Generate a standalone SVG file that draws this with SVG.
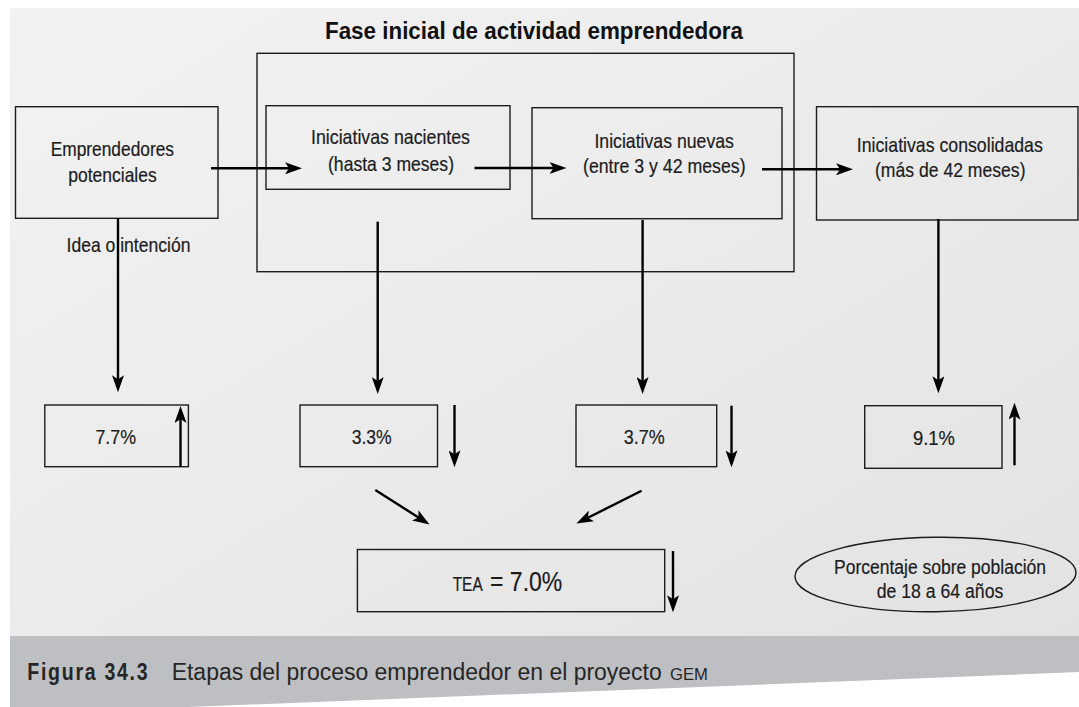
<svg xmlns="http://www.w3.org/2000/svg" width="1079" height="707" viewBox="0 0 1079 707">
<style>
.box{fill:none;stroke:#1c1c1c;stroke-width:1.4}
.t{font-family:"Liberation Sans",Arial,sans-serif;font-size:21px;fill:#1c1c1c;stroke:#1c1c1c;stroke-width:0.2}
.title{font-family:"Liberation Sans",Arial,sans-serif;font-size:24.5px;font-weight:bold;fill:#111}
.cap{font-family:"Liberation Sans",Arial,sans-serif;fill:#262626}
#connectors line{stroke:#000;stroke-width:2.4;marker-end:url(#ah)}
</style>
<defs>
<marker id="ah" markerUnits="userSpaceOnUse" markerWidth="17" markerHeight="12" viewBox="0 0 17 12" refX="9" refY="6" orient="auto">
<path d="M0,0 L17,6 L0,12 L4,6 Z" fill="#000"/>
</marker>
<linearGradient id="bg" x1="0" y1="0" x2="1" y2="1">
<stop offset="0" stop-color="#f2f2f2"/>
<stop offset="0.5" stop-color="#ebebeb"/>
<stop offset="1" stop-color="#e2e2e2"/>
</linearGradient>
</defs>
<rect x="0" y="0" width="1079" height="707" fill="#fff"/>
<rect x="10" y="8" width="1069" height="640" fill="url(#bg)"/>
<polygon points="10,636 1079,636 1079,672 10,714" fill="#bebfc2"/>

<text class="title" x="325" y="39" textLength="418" lengthAdjust="spacingAndGlyphs">Fase inicial de actividad emprendedora</text>

<g id="fase-inicial"><rect class="box" x="257" y="53.3" width="537" height="218.4"/></g>

<g id="emprendedores">
<rect class="box" x="15.5" y="106.7" width="202.5" height="111.6"/>
<text class="t" x="50.7" y="156" textLength="123.3" lengthAdjust="spacingAndGlyphs">Emprendedores</text>
<text class="t" x="68.3" y="181.7" textLength="88.4" lengthAdjust="spacingAndGlyphs">potenciales</text>
</g>
<g id="nacientes">
<rect class="box" x="266" y="105.7" width="244" height="83.6"/>
<text class="t" x="311" y="144.3" textLength="159" lengthAdjust="spacingAndGlyphs">Iniciativas nacientes</text>
<text class="t" x="328" y="170.7" textLength="126" lengthAdjust="spacingAndGlyphs">(hasta 3 meses)</text>
</g>
<g id="nuevas">
<rect class="box" x="532" y="107.7" width="250" height="111"/>
<text class="t" x="594.4" y="148.3" textLength="139.5" lengthAdjust="spacingAndGlyphs">Iniciativas nuevas</text>
<text class="t" x="583" y="173.3" textLength="162.6" lengthAdjust="spacingAndGlyphs">(entre 3 y 42 meses)</text>
</g>
<g id="consolidadas">
<rect class="box" x="816.5" y="106.7" width="261.5" height="113.3"/>
<text class="t" x="856.8" y="152.3" textLength="186" lengthAdjust="spacingAndGlyphs">Iniciativas consolidadas</text>
<text class="t" x="875" y="177.3" textLength="150.5" lengthAdjust="spacingAndGlyphs">(más de 42 meses)</text>
</g>
<g id="idea-label">
<text class="t" x="66.5" y="251.7" textLength="124" lengthAdjust="spacingAndGlyphs">Idea o intención</text>
</g>

<g id="p77">
<rect class="box" x="44.8" y="405" width="143.6" height="61.7"/>
<text class="t" x="95.4" y="444.3" textLength="40.6" lengthAdjust="spacingAndGlyphs">7.7%</text>
</g>
<g id="p33">
<rect class="box" x="300" y="405" width="137.5" height="61.7"/>
<text class="t" x="351.7" y="444.3" textLength="40" lengthAdjust="spacingAndGlyphs">3.3%</text>
</g>
<g id="p37">
<rect class="box" x="576" y="405" width="140.7" height="61.7"/>
<text class="t" x="623.7" y="444.3" textLength="41" lengthAdjust="spacingAndGlyphs">3.7%</text>
</g>
<g id="p91">
<rect class="box" x="864.7" y="405.7" width="137.3" height="62.6"/>
<text class="t" x="913" y="445" textLength="42" lengthAdjust="spacingAndGlyphs">9.1%</text>
</g>
<g id="tea">
<rect class="box" x="357.4" y="549.5" width="307.3" height="62.2"/>
<text class="t" x="452.7" y="590.7" textLength="30" lengthAdjust="spacingAndGlyphs">TEA</text>
<text class="t" x="490" y="590.7" style="font-size:27px" textLength="72.3" lengthAdjust="spacingAndGlyphs">= 7.0%</text>
</g>
<g id="nota">
<ellipse class="box" cx="935.5" cy="574.5" rx="140.5" ry="37.2" transform="rotate(-0.8 935.5 574.5)"/>
<text class="t" x="834" y="574.3" style="font-size:20px" textLength="212" lengthAdjust="spacingAndGlyphs">Porcentaje sobre población</text>
<text class="t" x="876.7" y="598.3" style="font-size:20px" textLength="126.6" lengthAdjust="spacingAndGlyphs">de 18 a 64 años</text>
</g>

<g id="connectors">
<line x1="211" y1="168.3" x2="294" y2="168.3"/>
<line x1="474.5" y1="168" x2="558.5" y2="168"/>
<line x1="762" y1="169.3" x2="845" y2="169.3"/>
<line x1="118" y1="218.3" x2="118" y2="384.3"/>
<line x1="377.7" y1="221.7" x2="377.7" y2="386"/>
<line x1="642.6" y1="220" x2="642.6" y2="386"/>
<line x1="938.4" y1="219" x2="938.4" y2="385.3"/>
<line x1="180.5" y1="466.7" x2="180.5" y2="414"/>
<line x1="454.5" y1="405" x2="454.5" y2="459.3"/>
<line x1="731.5" y1="405.7" x2="731.5" y2="459.3"/>
<line x1="1014.5" y1="465.3" x2="1014.5" y2="410.7"/>
<line x1="673" y1="551" x2="673" y2="604.3"/>
<line x1="375.3" y1="490" x2="422.8" y2="520.2"/>
<line x1="641.6" y1="490.7" x2="583.5" y2="520"/>
</g>

<g id="caption">
<text class="cap" x="27.3" y="680" style="font-size:23px;font-weight:bold;letter-spacing:2px" textLength="122" lengthAdjust="spacingAndGlyphs">Figura 34.3</text>
<text class="cap" x="171.7" y="680" style="font-size:23px" textLength="490" lengthAdjust="spacingAndGlyphs">Etapas del proceso emprendedor en el proyecto</text>
<text class="cap" x="670" y="680" style="font-size:17px" textLength="38" lengthAdjust="spacingAndGlyphs">GEM</text>
</g>
</svg>
